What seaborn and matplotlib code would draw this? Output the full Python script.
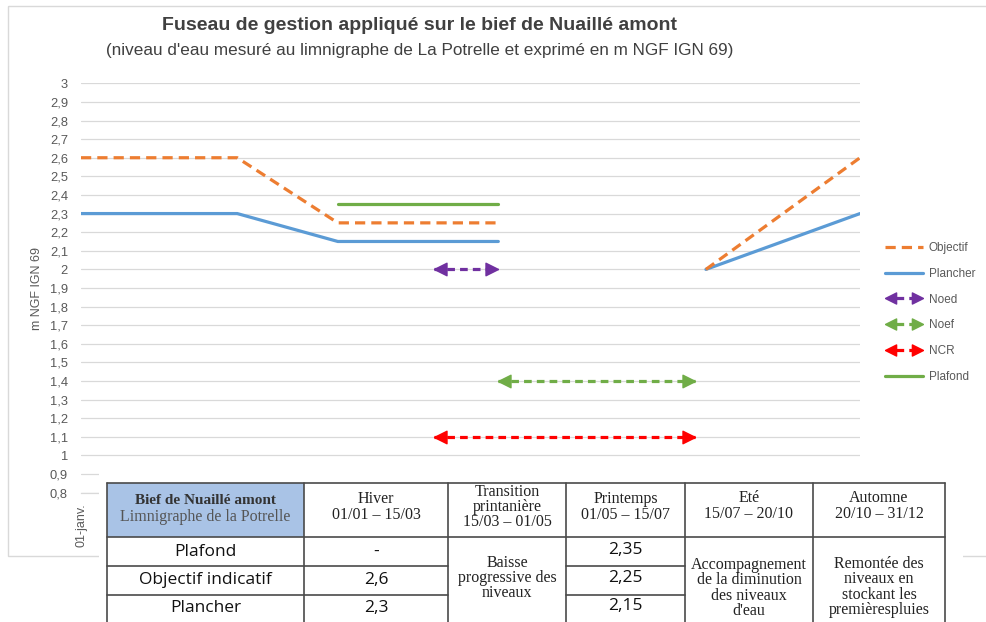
import numpy as np
import pandas as pd
import matplotlib
matplotlib.use("Agg")
import matplotlib.pyplot as plt
import seaborn as sns
from matplotlib.lines import Line2D
from matplotlib.legend_handler import HandlerBase
from matplotlib.patches import Rectangle

# ---------------------------------------------------------------- data
objectif_dates = ["2021-01-01", "2021-03-15", "2021-05-01", "2021-07-15", "2021-10-20", "2021-12-31"]
objectif_values = [2.6, 2.6, 2.25, 2.25, 2.0, 2.6]
objectif_segments = [0, 0, 0, 0, 1, 1]

plancher_dates = ["2021-01-01", "2021-03-15", "2021-05-01", "2021-07-15", "2021-10-20", "2021-12-31"]
plancher_values = [2.3, 2.3, 2.15, 2.15, 2.0, 2.3]
plancher_segments = [0, 0, 0, 0, 1, 1]

plafond_dates = ["2021-05-01", "2021-07-15"]
plafond_values = [2.35, 2.35]

noed_dates = ["2021-06-15", "2021-07-15"]
noed_values = [2.0, 2.0]
noef_dates = ["2021-07-15", "2021-10-15"]
noef_values = [1.4, 1.4]
ncr_dates = ["2021-06-15", "2021-10-15"]
ncr_values = [1.1, 1.1]

y_ticks = [0.8, 0.9, 1.0, 1.1, 1.2, 1.3, 1.4, 1.5, 1.6, 1.7, 1.8, 1.9, 2.0,
           2.1, 2.2, 2.3, 2.4, 2.5, 2.6, 2.7, 2.8, 2.9, 3.0]
y_tick_labels = ["0,8", "0,9", "1", "1,1", "1,2", "1,3", "1,4", "1,5", "1,6", "1,7", "1,8", "1,9", "2",
                 "2,1", "2,2", "2,3", "2,4", "2,5", "2,6", "2,7", "2,8", "2,9", "3"]
x_tick_dates = ["2021-01-01"]
x_tick_labels = ["01-janv."]

title = "Fuseau de gestion appliqué sur le bief de Nuaillé amont"
subtitle = "(niveau d'eau mesuré au limnigraphe de La Potrelle et exprimé en m NGF IGN 69)"
y_label = "m NGF IGN 69"

# table content
table_header = ["Hiver\n01/01 – 15/03",
                "Transition\nprintanière\n15/03 – 01/05",
                "Printemps\n01/05 – 15/07",
                "Eté\n15/07 – 20/10",
                "Automne\n20/10 – 31/12"]
table_corner_title = "Bief de Nuaillé amont"
table_corner_sub = "Limnigraphe de la Potrelle"
row_labels = ["Plafond", "Objectif indicatif", "Plancher"]
hiver_values = ["-", "2,6", "2,3"]
printemps_values = ["2,35", "2,25", "2,15"]
transition_text = "Baisse\nprogressive des\nniveaux"
ete_text = "Accompagnement\nde la diminution\ndes niveaux\nd'eau"
automne_text = "Remontée des\nniveaux en\nstockant les\npremièrespluies"

# ---------------------------------------------------------------- style
ORANGE = "#ED7D31"
BLUE = "#5B9BD5"
GREEN = "#70AD47"
PURPLE = "#7030A0"
RED = "#FF0000"
GRID = "#D9D9D9"
TEXT = "#595959"

sns.set_theme(style="white")
plt.rcParams["font.family"] = ["Liberation Sans", "DejaVu Sans"]
SERIF = ["Liberation Serif", "DejaVu Serif"]
CELL = ["Open Sans", "Liberation Sans", "DejaVu Sans"]

W, H = 986, 622
fig = plt.figure(figsize=(W / 100, H / 100), dpi=100)
fig.patch.set_facecolor("white")

# plot area in pixel bounds
px_left, px_right, px_top, px_bottom = 81, 860, 83.3, 492.7
ax = fig.add_axes([px_left / W, 1 - px_bottom / H,
                   (px_right - px_left) / W, (px_bottom - px_top) / H])
ax.set_facecolor("white")


def frame(dates, values, segments=None):
    return pd.DataFrame({
        "date": pd.to_datetime(dates),
        "niveau": values,
        "troncon": segments if segments is not None else [0] * len(values),
    })


# arrow heads: triangles whose tip sits on the data point
LEFT_HEAD = [(0, 0), (1, 0.5), (1, -0.5), (0, 0)]
RIGHT_HEAD = [(0, 0), (-1, 0.5), (-1, -0.5), (0, 0)]

sns.lineplot(data=frame(plafond_dates, plafond_values), x="date", y="niveau",
             color=GREEN, lw=2.3, ax=ax, legend=False)
sns.lineplot(data=frame(plancher_dates, plancher_values, plancher_segments),
             x="date", y="niveau", units="troncon", estimator=None,
             color=BLUE, lw=2.3, ax=ax, legend=False)
sns.lineplot(data=frame(objectif_dates, objectif_values, objectif_segments),
             x="date", y="niveau", units="troncon", estimator=None,
             color=ORANGE, lw=2.3, linestyle=(0, (3.2, 1.9)), ax=ax, legend=False)

for dates, values, color in [(noed_dates, noed_values, PURPLE),
                             (noef_dates, noef_values, GREEN),
                             (ncr_dates, ncr_values, RED)]:
    d = frame(dates, values)
    sns.lineplot(data=d, x="date", y="niveau", color=color, lw=2.3,
                 linestyle=(0, (2.4, 1.6)), ax=ax, legend=False)
    ax.plot(d["date"].iloc[:1], d["niveau"].iloc[:1], ls="none",
            marker=LEFT_HEAD, ms=18, color=color, mec=color)
    ax.plot(d["date"].iloc[-1:], d["niveau"].iloc[-1:], ls="none",
            marker=RIGHT_HEAD, ms=18, color=color, mec=color)

ax.set_xlim(pd.Timestamp("2021-01-01"), pd.Timestamp("2021-12-31"))
ax.set_ylim(0.8, 3.0)
ax.set_yticks(y_ticks)
ax.set_yticklabels(y_tick_labels)
ax.set_xticks(pd.to_datetime(x_tick_dates))
ax.set_xticklabels(x_tick_labels, rotation=90)
ax.set_xlabel("")
ax.set_ylabel(y_label, color=TEXT, fontsize=9, labelpad=5)
ax.tick_params(axis="y", length=0, colors=TEXT, labelsize=9.3, pad=9.4)
ax.tick_params(axis="x", length=5, width=0.8, color=GRID, colors=TEXT,
               labelsize=9, pad=3)
ax.yaxis.grid(True, color=GRID, lw=0.9)
ax.xaxis.grid(False)
for side in ["left", "right", "top"]:
    ax.spines[side].set_visible(False)
ax.spines["bottom"].set_color(GRID)
ax.spines["bottom"].set_linewidth(0.9)
for t in ax.get_yticklabels() + ax.get_xticklabels():
    t.set_color(TEXT)


# ---------------------------------------------------------------- legend
class DoubleArrowHandler(HandlerBase):
    def create_artists(self, legend, orig_handle, xdescent, ydescent,
                       width, height, fontsize, trans):
        color = orig_handle.get_color()
        y = height / 2 - ydescent
        x0, x1 = -xdescent, -xdescent + width
        shaft = Line2D([x0 + 8, x1 - 8], [y, y], color=color, lw=2.3,
                       ls=(0, (2.4, 1.6)))
        left = Line2D([x0], [y], ls="none", marker=LEFT_HEAD, ms=16,
                      color=color, mec=color)
        right = Line2D([x1], [y], ls="none", marker=RIGHT_HEAD, ms=16,
                       color=color, mec=color)
        for a in (shaft, left, right):
            a.set_transform(trans)
        return [shaft, left, right]


class ArrowKey(Line2D):
    pass


handles = [
    Line2D([], [], color=ORANGE, lw=2.3, ls=(0, (3.2, 1.9))),
    Line2D([], [], color=BLUE, lw=2.3),
    ArrowKey([], [], color=PURPLE),
    ArrowKey([], [], color=GREEN),
    ArrowKey([], [], color=RED),
    Line2D([], [], color=GREEN, lw=2.3),
]
labels = ["Objectif", "Plancher", "Noed", "Noef", "NCR", "Plafond"]
leg = fig.legend(handles, labels, loc="upper left",
                 bbox_to_anchor=(879 / W, 1 - 236 / H),
                 frameon=False, fontsize=8.5, handlelength=3.2,
                 handletextpad=0.5, labelspacing=1.17, borderpad=0,
                 handler_map={ArrowKey: DoubleArrowHandler()})
for t in leg.get_texts():
    t.set_color(TEXT)

# ---------------------------------------------------------------- overlay (pixel coordinates)
ov = fig.add_axes([0, 0, 1, 1], zorder=10)
ov.set_xlim(0, W)
ov.set_ylim(H, 0)
ov.axis("off")
ov.patch.set_alpha(0)

# chart frame
ov.add_patch(Rectangle((7.5, 6), 1000, 550, fill=False, ec=GRID, lw=1.0))

ov.text(420, 25, title, ha="center", va="center", fontsize=14,
        fontweight="bold", color="#404040")
ov.text(420, 50, subtitle, ha="center", va="center", fontsize=12.3,
        color="#404040")

# white backing of the summary table
ov.add_patch(Rectangle((99, 468), 864, 200, fc="white", ec="none"))

cols = [107, 304, 448, 566, 685, 813, 945]
top, head_bottom, r1, r2, bottom = 483, 537, 566, 595, 660
LINE = "#4a4a4a"

ov.add_patch(Rectangle((cols[0], top), cols[1] - cols[0], head_bottom - top,
                       fc="#A9C3E6", ec="none"))
for x in cols:
    ov.plot([x, x], [top, bottom], color=LINE, lw=1.2)
ov.plot([cols[0], cols[-1]], [top, top], color=LINE, lw=1.2)
ov.plot([cols[0], cols[-1]], [head_bottom, head_bottom], color=LINE, lw=1.2)
for yy in (r1, r2):
    ov.plot([cols[0], cols[2]], [yy, yy], color=LINE, lw=1.2)
    ov.plot([cols[3], cols[4]], [yy, yy], color=LINE, lw=1.2)

centers = [(a + b) / 2 for a, b in zip(cols[:-1], cols[1:])]
ov.text(centers[0], 500, table_corner_title, ha="center", va="center",
        fontsize=11, fontweight="bold", color="#333333", family=SERIF)
ov.text(centers[0], 517, table_corner_sub, ha="center", va="center",
        fontsize=11.5, color="#555555", family=SERIF)
header_y = [507, 507, 507, 506, 506]
for c, yy, txt in zip(centers[1:], header_y, table_header):
    n = txt.count("\n") + 1
    ov.text(c, yy, txt, ha="center", va="center", fontsize=11.5,
            color="#222222", family=SERIF,
            linespacing=1.05 if n == 2 else 0.92)

row_mid = [(head_bottom + r1) / 2, (r1 + r2) / 2, (r2 + 622) / 2 - 1]
for yy, lab, hv, pv in zip(row_mid, row_labels, hiver_values, printemps_values):
    ov.text(centers[0], yy, lab, ha="center", va="center", fontsize=12.5,
            color="#111111", family=CELL)
    ov.text(centers[1], yy, hv, ha="center", va="center", fontsize=12.5,
            color="#111111", family=CELL)
    ov.text(centers[3], yy - 2, pv, ha="center", va="center", fontsize=12.5,
            color="#111111", family=CELL)

ov.text(centers[2], 578, transition_text, ha="center", va="center",
        fontsize=11.5, color="#222222", family=SERIF, linespacing=0.92)
ov.text(centers[4], 588, ete_text, ha="center", va="center",
        fontsize=11.5, color="#222222", family=SERIF, linespacing=0.92)
ov.text(centers[5], 587, automne_text, ha="center", va="center",
        fontsize=11.5, color="#222222", family=SERIF, linespacing=0.92)

fig.savefig("out.png", dpi=100, facecolor="white")
